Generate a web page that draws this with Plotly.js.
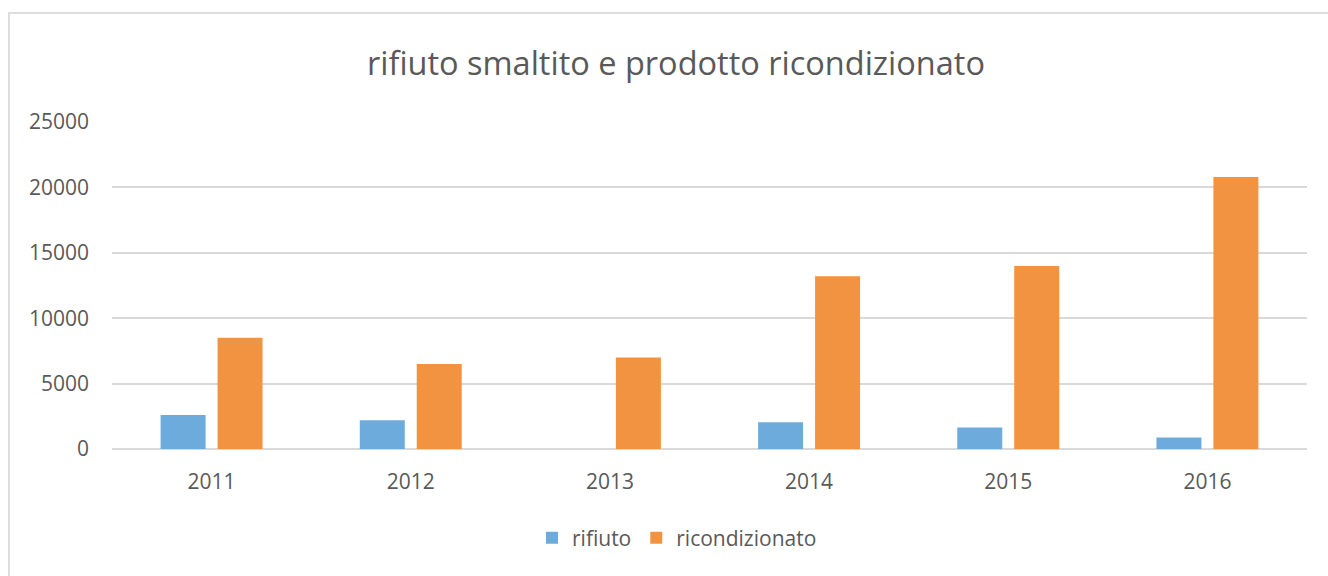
<!DOCTYPE html>
<html>
<head>
<meta charset="utf-8">
<script src="https://cdn.plot.ly/plotly-3.0.1.min.js"></script>
<style>
  html, body { margin: 0; padding: 0; background: #fff; }
  #wrap { position: relative; width: 1328px; height: 576px; overflow: hidden; }
  #frame { position: absolute; left: 8px; top: 12px; width: 1400px; height: 700px;
           border-top: 2px solid #DDDDDD; border-left: 2px solid #DDDDDD; pointer-events: none; }
  #chart { position: absolute; left: 0; top: 0; width: 1328px; height: 576px; }
</style>
</head>
<body>
<div id="wrap">
  <div id="chart"></div>
  <div id="frame"></div>
</div>
<script>
const categories = ['2011', '2012', '2013', '2014', '2015', '2016'];
const rifiuto = [2600, 2200, 0, 2050, 1650, 870];
const ricondizionato = [8500, 6500, 7000, 13200, 14000, 20800];
const yTicks = [0, 5000, 10000, 15000, 20000, 25000];
const yTickLabels = ['0', '5000', '10000', '15000', '20000', '25000'];
const chartTitle = 'rifiuto smaltito e prodotto ricondizionato';

const FONT = '"Open Sans", "Noto Sans", sans-serif';
const TXT = '#595959';

const data = [
  { type: 'bar', name: 'rifiuto', x: categories, y: rifiuto,
    marker: { color: '#6DABDC' }, hoverinfo: 'x+y' },
  { type: 'bar', name: 'ricondizionato', x: categories, y: ricondizionato,
    marker: { color: '#F29341' }, hoverinfo: 'x+y' }
];

const layout = {
  width: 1328, height: 576,
  paper_bgcolor: 'rgba(0,0,0,0)', plot_bgcolor: 'rgba(0,0,0,0)',
  margin: { l: 112, r: 21, t: 122, b: 127 },
  font: { family: FONT, color: TXT, size: 21 },
  title: { text: chartTitle, font: { family: FONT, size: 32.5, color: TXT },
           x: 0.509, xanchor: 'center', y: 1 - 64 / 576, yanchor: 'middle', yref: 'container' },
  barmode: 'group', bargap: 0.428, bargroupgap: 0.21,
  xaxis: { type: 'category', showgrid: false, showline: false, zeroline: false,
           ticks: '', ticklabelstandoff: 18, tickfont: { family: FONT, size: 21, color: TXT } },
  yaxis: { range: [0, 25000], tickvals: yTicks, ticktext: yTickLabels,
           showgrid: true, gridcolor: '#D9D9D9', gridwidth: 2,
           zeroline: true, zerolinecolor: '#D9D9D9', zerolinewidth: 2,
           showline: false, ticks: '', ticklabelstandoff: 22,
           tickfont: { family: FONT, size: 21, color: TXT } },
  showlegend: true,
  legend: { orientation: 'h', x: (532 - 112) / 1195, xanchor: 'left', y: -0.21, yanchor: 'top',
            font: { family: FONT, size: 21, color: TXT }, itemwidth: 30, traceorder: 'normal' }
};

Plotly.newPlot('chart', data, layout, { displayModeBar: false, staticPlot: true });
</script>
</body>
</html>
